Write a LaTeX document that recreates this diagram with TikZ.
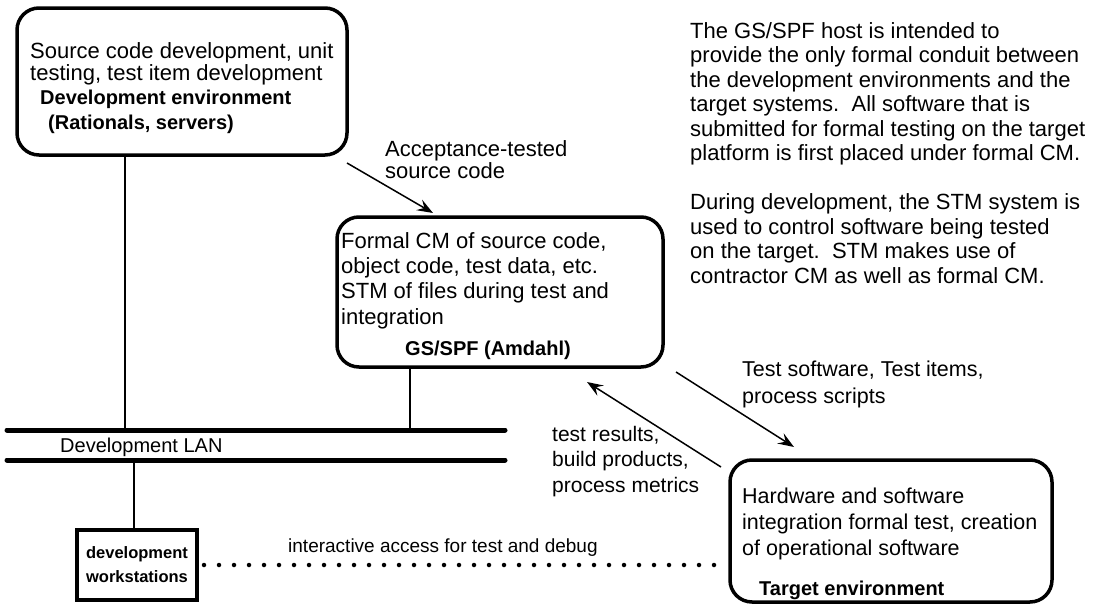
\documentclass[tikz,border=0pt]{standalone}
\usepackage{fontspec}
\setmainfont{Liberation Sans}
\usetikzlibrary{arrows.meta}
% note: a multi-line node's base anchor is the baseline of its LAST line
\tikzset{
  txt/.style={font=\fontsize{22}{24.5}\selectfont, align=left, inner sep=0pt, anchor=base west},
  btxt/.style={font=\fontsize{20}{22}\selectfont\bfseries, align=left, inner sep=0pt, anchor=base west},
  rbox/.style={draw, line width=3.5pt, rounded corners=22pt, inner sep=0pt},
  sbox/.style={draw, line width=4pt, inner sep=0pt, align=center, font=\fontsize{16.5}{24}\selectfont\bfseries},
  conn/.style={line width=1.3pt},
  arr/.style={line width=1.5pt, -{Stealth[length=16pt,width=12pt,inset=6pt]}},
  lan/.style={line width=5pt, line cap=round},
  dots/.style={line width=4.5pt, line cap=round, dash pattern=on 0pt off 15pt, dash phase=10pt}
}
\begin{document}
\begin{tikzpicture}[x=1pt,y=-1pt]
\useasboundingbox (0,0) rectangle (1117,605);
% boxes
\node[rbox, minimum width=330pt, minimum height=147pt] (dev) at (182,81.5) {};
\node[rbox, minimum width=326pt, minimum height=150pt] (gs) at (500,292) {};
\node[rbox, minimum width=322pt, minimum height=142pt] (tgt) at (891,531) {};
\node[sbox, minimum width=120pt, minimum height=70pt] (ws) at (137,565) {development\\workstations};
% box texts
\node[txt, font=\fontsize{22}{22}\selectfont] (devt) at (30,80) {Source code development, unit\\testing, test item development};
\node[btxt] (devb1) at (40,104) {Development environment};
\node[btxt] (devb2) at (48,129) {(Rationals, servers)};
\node[txt, font=\fontsize{22}{25.3}\selectfont] (gst) at (341,324) {Formal CM of source code,\\object code, test data, etc.\\STM of files during test and\\integration};
\node[btxt] (gsb) at (405,355) {GS/SPF (Amdahl)};
\node[txt, font=\fontsize{21.5}{26}\selectfont] (tgtt) at (742,555) {Hardware and software\\integration formal test, creation\\of operational software};
\node[btxt] (tgtb) at (759,595) {Target environment};
% LAN
\coordinate (lanTL) at (7,430);
\coordinate (lanTR) at (505,430);
\coordinate (lanBL) at (7,460);
\coordinate (lanBR) at (505,460);
\draw[lan] (lanTL) -- (lanTR);
\draw[lan] (lanBL) -- (lanBR);
\node[txt, font=\fontsize{20}{24}\selectfont] (lanl) at (60,452) {Development LAN};
% connectors
\coordinate (x1) at (125,0);
\coordinate (x2) at (410,0);
\coordinate (x3) at (134,0);
\draw[conn] (dev.south -| x1) -- (x1 |- lanTL);
\draw[conn] (gs.south -| x2) -- (x2 |- lanTL);
\draw[conn] (x3 |- lanBL) -- (x3 |- ws.north);
\coordinate (dotEnd) at (714,565);
\draw[dots] (ws.east) -- (dotEnd);
\node[txt, font=\fontsize{19}{24}\selectfont] (ial) at (288,552) {interactive access for test and debug};
% arrows
\coordinate (accS) at (347,163);
\coordinate (accE) at (433,213);
\draw[arr] (accS) -- (accE);
\node[txt, font=\fontsize{22}{22}\selectfont] (accl) at (385,178) {Acceptance-tested\\source code};
\coordinate (tsS) at (676,372);
\coordinate (tsE) at (794,447);
\draw[arr] (tsS) -- (tsE);
\node[txt, font=\fontsize{21.5}{27}\selectfont] (tsl) at (742,403) {Test software, Test items,\\process scripts};
\coordinate (trS) at (721,467);
\coordinate (trE) at (587,382);
\draw[arr] (trS) -- (trE);
\node[txt, font=\fontsize{21}{25.5}\selectfont] (trl) at (552,492) {test results,\\build products,\\process metrics};
% note
\node[txt] (note) at (690,283) {The GS/SPF host is intended to\\provide the only formal conduit between\\the development environments and the\\target systems.\ \ All software that is\\submitted for formal testing on the target\\platform is first placed under formal CM.\\[24.5pt]During development, the STM system is\\used to control software being tested\\on the target.\ \ STM makes use of\\contractor CM as well as formal CM.};
\end{tikzpicture}
\end{document}
